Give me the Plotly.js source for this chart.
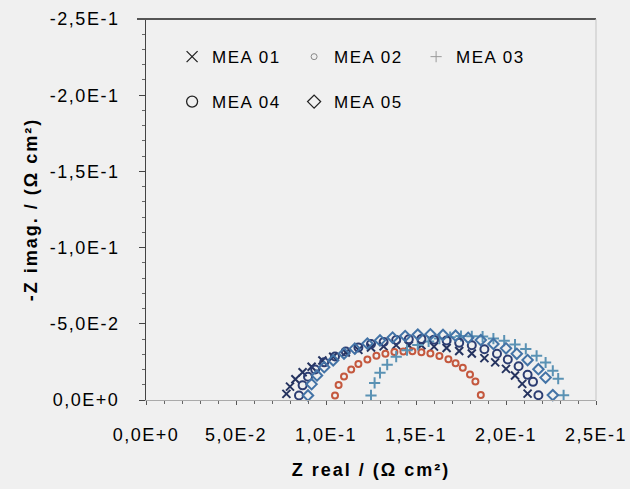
<!DOCTYPE html>
<html>
<head>
<meta charset="utf-8">
<script src="https://cdn.plot.ly/plotly-3.0.1.min.js"></script>
<style>
html,body{margin:0;padding:0;background:#f0f0f0;}
#chart{width:630px;height:489px;}
.main-svg text{letter-spacing:1.5px;}
.main-svg text.xtitle,.main-svg text.ytitle{letter-spacing:2px;}
</style>
</head>
<body>
<div id="chart"></div>
<script>
// Nyquist data: Z real (Ohm cm2) and Z imag (Ohm cm2, negative)
const seriesNames = ["MEA 01", "MEA 02", "MEA 03", "MEA 04", "MEA 05"];

const mea01_zreal = [0.078,0.080,0.083,0.087,0.092,0.098,0.104,0.111,0.118,0.125,0.132,0.139,0.146,0.153,0.160,0.167,0.174,0.181,0.188,0.194,0.200,0.205,0.209,0.212];
const mea01_zimag = [-0.004,-0.0088,-0.0136,-0.0182,-0.0218,-0.0259,-0.0284,-0.0312,-0.0329,-0.0345,-0.0352,-0.0360,-0.0358,-0.0359,-0.0350,-0.0341,-0.0322,-0.0305,-0.0275,-0.0247,-0.0204,-0.0161,-0.0106,-0.0042];

const mea02_zreal = [0.105,0.107,0.110,0.114,0.118,0.123,0.128,0.133,0.138,0.143,0.148,0.153,0.158,0.163,0.168,0.172,0.176,0.180,0.183,0.186];
const mea02_zimag = [-0.003,-0.0098,-0.0155,-0.0200,-0.0236,-0.0265,-0.0290,-0.0303,-0.0315,-0.0318,-0.0320,-0.0313,-0.0305,-0.0288,-0.0267,-0.0241,-0.0212,-0.0167,-0.0122,-0.0032];

const mea03_zreal = [0.125,0.127,0.130,0.134,0.139,0.145,0.151,0.157,0.163,0.169,0.175,0.181,0.187,0.193,0.199,0.205,0.211,0.217,0.222,0.226,0.229,0.232];
const mea03_zimag = [-0.003,-0.0112,-0.0178,-0.0232,-0.0284,-0.0327,-0.0361,-0.0384,-0.0403,-0.0412,-0.0420,-0.0418,-0.0416,-0.0403,-0.0389,-0.0364,-0.0335,-0.0290,-0.0246,-0.0192,-0.0140,-0.0031];

const mea04_zreal = [0.085,0.087,0.090,0.094,0.099,0.105,0.111,0.118,0.125,0.132,0.139,0.146,0.153,0.160,0.167,0.174,0.181,0.188,0.195,0.201,0.207,0.212,0.215,0.218];
const mea04_zimag = [-0.003,-0.0096,-0.0153,-0.0200,-0.0247,-0.0285,-0.0318,-0.0344,-0.0368,-0.0381,-0.0394,-0.0398,-0.0401,-0.0396,-0.0390,-0.0375,-0.0359,-0.0333,-0.0304,-0.0266,-0.0221,-0.0165,-0.0119,-0.0031];

const mea05_zreal = [0.090,0.092,0.095,0.099,0.104,0.110,0.116,0.123,0.130,0.137,0.144,0.151,0.158,0.165,0.172,0.179,0.186,0.193,0.200,0.206,0.212,0.218,0.222,0.226];
const mea05_zimag = [-0.003,-0.0104,-0.0161,-0.0215,-0.0260,-0.0305,-0.0337,-0.0370,-0.0391,-0.0410,-0.0420,-0.0429,-0.0431,-0.0427,-0.0422,-0.0408,-0.0393,-0.0368,-0.0339,-0.0303,-0.0262,-0.0202,-0.0147,-0.0032];

const xTickVals = [0, 0.05, 0.10, 0.15, 0.20, 0.25];
const xTickText = ["0,0E+0", "5,0E-2", "1,0E-1", "1,5E-1", "2,0E-1", "2,5E-1"];
const yTickVals = [0, -0.05, -0.10, -0.15, -0.20, -0.25];
const yTickText = ["0,0E+0", "-5,0E-2", "-1,0E-1", "-1,5E-1", "-2,0E-1", "-2,5E-1"];

const xs = [mea01_zreal, mea02_zreal, mea03_zreal, mea04_zreal, mea05_zreal];
const ys = [mea01_zimag, mea02_zimag, mea03_zimag, mea04_zimag, mea05_zimag];

const styles = [
  {symbol: "x-thin-open", color: "#25335f", size: 8, lw: 2},
  {symbol: "circle-open", color: "#c4583e", size: 6, lw: 2},
  {symbol: "cross-thin-open", color: "#5a92b4", size: 8, lw: 2},
  {symbol: "circle-open", color: "#2c3d72", size: 8, lw: 2},
  {symbol: "diamond-open", color: "#4373a6", size: 8, lw: 2}
];
const legendStyles = [
  {symbol: "x-thin-open", color: "#222", size: 11, lw: 1.3, legend: "legend"},
  {symbol: "circle-open", color: "#888", size: 6, lw: 1, legend: "legend"},
  {symbol: "cross-thin-open", color: "#999", size: 8, lw: 1, legend: "legend"},
  {symbol: "circle-open", color: "#222", size: 11, lw: 1.3, legend: "legend2"},
  {symbol: "diamond-open", color: "#222", size: 10, lw: 1.3, legend: "legend2"}
];

const traces = [];
for (let i = 0; i < seriesNames.length; i++) {
  traces.push({
    type: "scatter", mode: "markers", name: seriesNames[i],
    x: xs[i], y: ys[i], showlegend: false, cliponaxis: false,
    marker: {symbol: styles[i].symbol, size: styles[i].size, color: styles[i].color,
             line: {color: styles[i].color, width: styles[i].lw}}
  });
}
for (let i = 0; i < seriesNames.length; i++) {
  traces.push({
    type: "scatter", mode: "markers", name: seriesNames[i],
    x: [null], y: [null], showlegend: true, legend: legendStyles[i].legend,
    marker: {symbol: legendStyles[i].symbol, size: legendStyles[i].size, color: legendStyles[i].color,
             line: {color: legendStyles[i].color, width: legendStyles[i].lw}}
  });
}

const fam = "Liberation Sans, Arial, sans-serif";
const font = {family: fam, size: 17, color: "#000"};
const tickFont = {family: fam, size: 18, color: "#000"};
const titleFont = {family: fam, size: 18, color: "#000", weight: "bold"};

const layout = {
  width: 630, height: 489,
  margin: {l: 146, r: 34, t: 19, b: 89},
  paper_bgcolor: "#f0f0f0", plot_bgcolor: "#f0f0f0",
  font: font,
  xaxis: {
    range: [0, 0.25], tickvals: xTickVals, ticktext: xTickText,
    showgrid: false, zeroline: false, showline: true, linecolor: "#aaa", linewidth: 1,
    ticks: "outside", ticklen: 4, tickcolor: "#555", tickwidth: 1,
    minor: {dtick: 0.01, ticks: "outside", ticklen: 3, tickcolor: "#666", showgrid: false},
    ticklabelstandoff: 14, tickfont: tickFont,
    title: {text: "Z real / (Ω cm²)", font: titleFont, standoff: 19}
  },
  yaxis: {
    range: [0, -0.25], tickvals: yTickVals, ticktext: yTickText,
    showgrid: false, zeroline: false, showline: true, linecolor: "#444", linewidth: 1,
    ticks: "outside", ticklen: 6, tickcolor: "#444", tickwidth: 1,
    minor: {dtick: 0.01, ticks: "outside", ticklen: 3, tickcolor: "#666", showgrid: false},
    ticklabelstandoff: 16, tickfont: tickFont,
    title: {text: "-Z imag. / (Ω cm²)", font: titleFont, standoff: 18}
  },
  legend: {orientation: "h", x: 0.058, y: 0.90, xanchor: "left", yanchor: "middle",
           bgcolor: "rgba(0,0,0,0)", font: font, entrywidth: 77, entrywidthmode: "pixels",
           itemclick: false},
  legend2: {orientation: "h", x: 0.058, y: 0.782, xanchor: "left", yanchor: "middle",
           bgcolor: "rgba(0,0,0,0)", font: font, entrywidth: 77, entrywidthmode: "pixels",
           itemclick: false},
  shapes: [
    {type: "line", xref: "paper", yref: "paper", x0: -0.02, x1: 1, y0: 1, y1: 1,
     line: {color: "#555", width: 2}},
    {type: "line", xref: "paper", yref: "paper", x0: 1, x1: 1, y0: 0, y1: 1,
     line: {color: "#c4c4c4", width: 1}}
  ]
};

Plotly.newPlot("chart", traces, layout, {displayModeBar: false, staticPlot: true});
</script>
</body>
</html>
